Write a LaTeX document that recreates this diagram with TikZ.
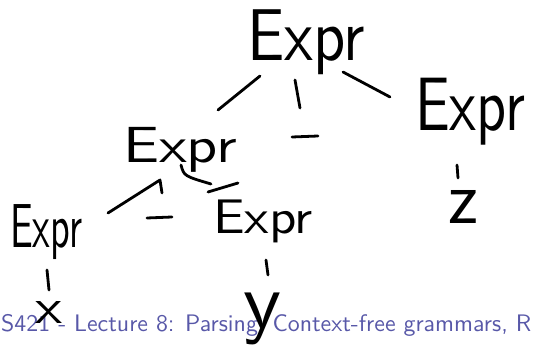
\documentclass[tikz,border=0pt]{standalone}
\usepackage{graphicx}
\definecolor{footblue}{RGB}{88,88,168}
\tikzset{
  hw/.style={inner sep=0pt, outer sep=0pt, anchor=north west, text=black},
  pen/.style={line width=2.8pt, line cap=round, line join=round, black},
  foot/.style={inner sep=0pt, anchor=base west, text=footblue, font=\sffamily}
}
\begin{document}
\begin{tikzpicture}[x=1pt,y=-1pt]
\useasboundingbox (0,0) rectangle (533,347);
\clip (0,0) rectangle (533,347);
% footer
\node[foot] (footer) at (1,332) {\resizebox{530pt}{!}{S421 - Lecture 8: Parsing, Context-free grammars, R}};
% nodes
\node[hw] (root)  at (247,10)  {\resizebox*{118pt}{65pt}{\sffamily Expr}};
\node[hw] (right) at (415,78)  {\resizebox*{110pt}{67pt}{\sffamily Expr}};
\node[hw] (mid)   at (123,127) {\resizebox*{114pt}{45pt}{\sffamily Expr}};
\node[hw] (lower) at (213,200) {\resizebox*{100pt}{43pt}{\sffamily Expr}};
\node[hw] (left)  at (10,205)  {\resizebox*{72pt}{55pt}{\sffamily Expr}};
\node[hw] (zl)    at (448,190) {\resizebox*{30pt}{33pt}{\sffamily z}};
\node[hw] (xl)    at (35,301)  {\resizebox*{27pt}{22pt}{\sffamily x}};
\node[hw] (yl)    at (243,293) {\resizebox*{38pt}{52pt}{\sffamily y}};
% stroke end points
\coordinate (r1a) at (260,76);  \coordinate (r1b) at (218,110);
\coordinate (r2a) at (295,80);  \coordinate (r2b) at (300,108);
\coordinate (r3a) at (343,72);  \coordinate (r3b) at (390,97);
\coordinate (m0a) at (292,137); \coordinate (m0b) at (318,136);
\coordinate (z1a) at (457,165); \coordinate (z1b) at (458,178);
\coordinate (m1a) at (108,213); \coordinate (m1b) at (160,180); \coordinate (m1c) at (162,193);
\coordinate (m2a) at (147,218); \coordinate (m2b) at (172,217);
\coordinate (m3a) at (181,165); \coordinate (m3b) at (211,184);
\coordinate (m4a) at (208,192); \coordinate (m4b) at (238,183);
\coordinate (l1a) at (47,270);  \coordinate (l1b) at (49,290);
\coordinate (w1a) at (266,260); \coordinate (w1b) at (268,275);
% strokes
\draw[pen] (r1a) -- (r1b);
\draw[pen] (r2a) -- (r2b);
\draw[pen] (r3a) -- (r3b);
\draw[pen] (m0a) -- (m0b);
\draw[pen] (z1a) -- (z1b);
\draw[pen] (m1a) -- (m1b) -- (m1c);
\draw[pen] (m2a) -- (m2b);
\draw[pen] (m3a) .. controls (184,176) .. (m3b);
\draw[pen] (m4a) -- (m4b);
\draw[pen] (l1a) -- (l1b);
\draw[pen] (w1a) -- (w1b);
\end{tikzpicture}
\end{document}
